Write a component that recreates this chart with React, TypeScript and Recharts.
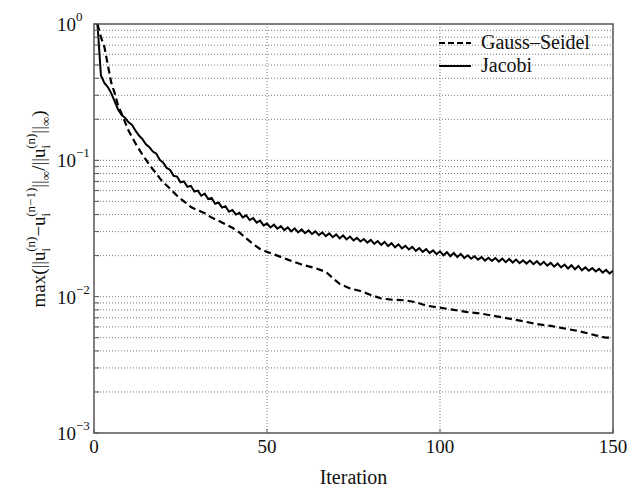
import { LineChart, Line, XAxis, YAxis, ReferenceLine, ReferenceArea } from "recharts";

// Jacobi residual, one value per iteration (1..150)
const JACOBI = [
  1.0, 0.42, 0.37, 0.345, 0.31, 0.27, 0.235, 0.215, 0.205, 0.19,
  0.182, 0.165, 0.152, 0.143, 0.131, 0.125, 0.116, 0.112, 0.101, 0.096,
  0.088, 0.085, 0.077, 0.076, 0.069, 0.07, 0.064, 0.065, 0.059, 0.06,
  0.055, 0.057, 0.052, 0.053, 0.048, 0.049, 0.045, 0.046, 0.042, 0.0432,
  0.04, 0.0412, 0.0381, 0.0395, 0.0365, 0.0377, 0.0349, 0.0361, 0.0333, 0.0344,
  0.0322, 0.0337, 0.0315, 0.0329, 0.0308, 0.0322, 0.0301, 0.0317, 0.0296, 0.0311,
  0.0292, 0.0306, 0.0288, 0.0301, 0.0283, 0.0296, 0.0278, 0.0291, 0.0273, 0.0286,
  0.0268, 0.0281, 0.0263, 0.0276, 0.0259, 0.027, 0.0254, 0.0265, 0.0249, 0.0261,
  0.0244, 0.0256, 0.024, 0.0252, 0.0235, 0.0247, 0.023, 0.0242, 0.0226, 0.0236,
  0.0222, 0.0232, 0.0217, 0.0227, 0.0213, 0.0223, 0.0209, 0.0219, 0.0205, 0.0215,
  0.0201, 0.0212, 0.0198, 0.0209, 0.0195, 0.0206, 0.0192, 0.0201, 0.019, 0.0198,
  0.0187, 0.0195, 0.0184, 0.0193, 0.0183, 0.0192, 0.0181, 0.019, 0.0179, 0.0189,
  0.0178, 0.0187, 0.0176, 0.0185, 0.0175, 0.0184, 0.0173, 0.0182, 0.0171, 0.018,
  0.0169, 0.0177, 0.0166, 0.0175, 0.0164, 0.0172, 0.0161, 0.017, 0.0159, 0.0168,
  0.0156, 0.0164, 0.0155, 0.0162, 0.0153, 0.016, 0.015, 0.0157, 0.0148, 0.0155,
];

// Gauss-Seidel residual
const GS_ITER = [
  1, 2, 3, 4, 5, 6, 7, 8, 9, 10, 11, 12, 13, 14, 15, 16, 17, 18, 19, 20,
  22, 24, 26, 28, 30, 32, 34, 36, 38, 40, 42, 44, 46, 48, 50, 53, 56, 60, 64, 67,
  69, 71, 74, 77, 80, 83, 86, 90, 93, 96, 100, 104, 108, 112, 116, 120, 124, 128, 132, 135,
  140, 145, 148, 150,
];
const GS_VALUE = [
  1.0, 0.8, 0.68, 0.5, 0.37, 0.31, 0.25, 0.22, 0.19, 0.165, 0.148, 0.133, 0.121, 0.11, 0.101, 0.093, 0.086, 0.08, 0.074, 0.069,
  0.062, 0.055, 0.05, 0.0455, 0.043, 0.041, 0.038, 0.036, 0.034, 0.032, 0.0296, 0.0268, 0.0243, 0.0224, 0.0213, 0.02, 0.0187, 0.0172, 0.0162, 0.0152,
  0.0137, 0.0124, 0.0115, 0.011, 0.0103, 0.0097, 0.0095, 0.0094, 0.0091, 0.0086, 0.0083, 0.008, 0.0077, 0.0075, 0.0072, 0.0069, 0.0066, 0.0063, 0.0061, 0.0059,
  0.0056, 0.0052, 0.005, 0.005,
];

const SERIES = [
  { name: "Gauss\u2013Seidel", dash: "6 3" },
  { name: "Jacobi", dash: undefined },
];

const X_TICKS = [0, 50, 100, 150];
const Y_GRID = [
  0.002, 0.003, 0.004, 0.005, 0.006, 0.007, 0.008, 0.009, 0.01,
  0.02, 0.03, 0.04, 0.05, 0.06, 0.07, 0.08, 0.09, 0.1,
  0.2, 0.3, 0.4, 0.5, 0.6, 0.7, 0.8, 0.9,
];
const Y_TICKS = [0.001, ...Y_GRID, 1];
const X_GRID = [50, 100];

const FONT = "'Liberation Serif', 'Times New Roman', serif";
const INK = "#111";
const FRAME = "#555";

const jacobiData = JACOBI.map((v, i) => ({ iter: i + 1, value: v }));
const gsData = GS_ITER.map((it, i) => ({ iter: it, value: GS_VALUE[i] }));

// only decades get a label, the rest are minor ticks
const YTick = ({ x, y, payload }: any) => {
  const lg = Math.log10(payload.value);
  const exp = Math.round(lg);
  if (Math.abs(lg - exp) > 1e-6) return <g />;
  return (
    <text x={x - 35} y={y + 7} fontSize={19} fontFamily={FONT} fill={INK}>
      <tspan>10</tspan>
      <tspan dy={-10} fontSize={13}>{exp < 0 ? "\u2212" + -exp : String(exp)}</tspan>
    </text>
  );
};

const XTick = ({ x, y, payload }: any) => (
  <text x={x} y={y + 12} textAnchor="middle" fontSize={19} fontFamily={FONT} fill={INK}>
    {payload.value}
  </text>
);

const NoLabel = () => <g />;

// sub "i" then sup "(n)" pulled back over it
const YLabel = () => (
  <text
    transform="translate(45, 209) rotate(-90)"
    textAnchor="middle"
    fontSize={19}
    fontFamily={FONT}
    fill={INK}
  >
    <tspan>max(||u</tspan>
    <tspan dy={5} fontSize={13}>i</tspan>
    <tspan dx={-4} dy={-15} fontSize={13}>(n)</tspan>
    <tspan dy={10}>{"\u2212u"}</tspan>
    <tspan dy={5} fontSize={13}>i</tspan>
    <tspan dx={-4} dy={-15} fontSize={13}>{"(n\u22121)"}</tspan>
    <tspan dy={10}>||</tspan>
    <tspan dy={5} fontSize={13}>{"\u221e"}</tspan>
    <tspan dy={-5}>/||u</tspan>
    <tspan dy={5} fontSize={13}>i</tspan>
    <tspan dx={-4} dy={-15} fontSize={13}>(n)</tspan>
    <tspan dy={10}>||</tspan>
    <tspan dy={5} fontSize={13}>{"\u221e"}</tspan>
    <tspan dy={-5}>)</tspan>
  </text>
);

export default function App() {
  return (
    <div style={{ position: "absolute", left: 0, top: 0, width: 629, height: 488, background: "#fff" }}>
      <LineChart width={629} height={488} margin={{ top: 24, right: 16, left: 0, bottom: 0 }}>
        {Y_GRID.map((v) => (
          <ReferenceLine key={`y${v}`} y={v} stroke="#777" strokeDasharray="1 2" />
        ))}
        {X_GRID.map((v) => (
          <ReferenceLine key={`x${v}`} x={v} stroke="#777" strokeDasharray="1 2" />
        ))}
        <XAxis
          type="number"
          dataKey="iter"
          domain={[0, 150]}
          ticks={X_TICKS}
          allowDataOverflow
          axisLine={false}
          tickLine={{ stroke: FRAME }}
          tickSize={-4}
          tickMargin={12}
          height={55}
          tick={<XTick />}
          label={{
            value: "Iteration",
            position: "insideBottom",
            offset: 4,
            style: { fontFamily: FONT, fontSize: 20, fill: INK },
          }}
        />
        <XAxis
          xAxisId="top"
          orientation="top"
          type="number"
          domain={[0, 150]}
          ticks={X_TICKS}
          allowDataOverflow
          axisLine={false}
          tickLine={{ stroke: FRAME }}
          tickSize={-4}
          height={0}
          tick={<NoLabel />}
        />
        <YAxis
          type="number"
          scale="log"
          domain={[0.001, 1]}
          ticks={Y_TICKS}
          interval={0}
          allowDataOverflow
          axisLine={false}
          tickLine={{ stroke: FRAME }}
          tickSize={-5}
          tickMargin={7}
          width={94}
          tick={<YTick />}
          label={<YLabel />}
        />
        <YAxis
          yAxisId="right"
          orientation="right"
          type="number"
          scale="log"
          domain={[0.001, 1]}
          ticks={Y_TICKS}
          interval={0}
          allowDataOverflow
          axisLine={false}
          tickLine={{ stroke: FRAME }}
          tickSize={-5}
          width={0}
          tick={<NoLabel />}
        />
        <ReferenceArea x1={0} x2={150} y1={0.001} y2={1} fill="none" stroke={FRAME} strokeWidth={1.5} />
        <Line
          data={gsData}
          dataKey="value"
          name="Gauss-Seidel"
          stroke="#000"
          strokeWidth={2.2}
          strokeDasharray="7 4"
          dot={false}
          isAnimationActive={false}
        />
        <Line
          data={jacobiData}
          dataKey="value"
          name="Jacobi"
          stroke="#000"
          strokeWidth={2}
          dot={false}
          isAnimationActive={false}
        />
      </LineChart>
      <div
        style={{
          position: "absolute",
          top: 31,
          left: 439,
          fontFamily: FONT,
          fontSize: 20,
          color: INK,
          lineHeight: "23px",
        }}
      >
        {SERIES.map((item) => (
          <div key={item.name} style={{ display: "flex", alignItems: "center" }}>
            <svg width={34} height={10} style={{ marginRight: 8 }}>
              <line x1={0} y1={5} x2={32} y2={5} stroke="#000" strokeWidth={2} strokeDasharray={item.dash} />
            </svg>
            <span>{item.name}</span>
          </div>
        ))}
      </div>
    </div>
  );
}
